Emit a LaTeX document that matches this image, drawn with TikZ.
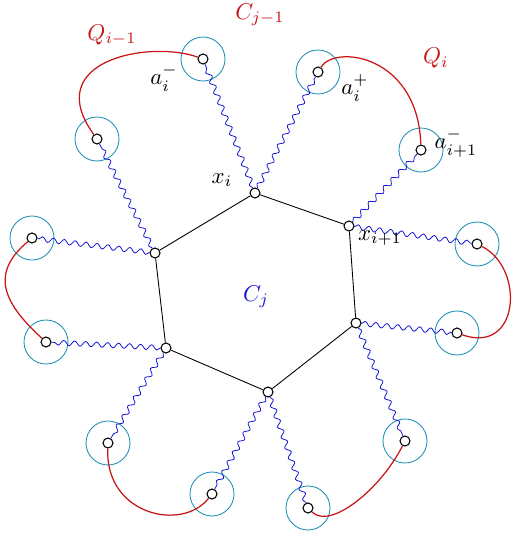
\documentclass[tikz,border=0pt]{standalone}
\usepackage{amsmath}
\usetikzlibrary{decorations.pathmorphing}
\definecolor{ringcol}{RGB}{35,145,185}
\definecolor{pathcol}{RGB}{200,20,20}
\definecolor{wavecol}{RGB}{20,20,215}

\begin{document}
\begin{tikzpicture}[lbl/.style={scale=1.3},
	vert/.style={circle, draw, fill=white, inner sep=0pt, minimum size=2mm, line width=0.6pt},
	ring/.style={ringcol, line width=0.5pt},
	wave/.style={wavecol, line width=0.45pt, decorate, decoration={snake, amplitude=0.5mm, segment length=2.2mm}},
	qpath/.style={pathcol, line width=0.7pt}]
	\useasboundingbox (0,0) rectangle (10.36,10.76);
	% cycle C_j
	\foreach \n/\x/\y in {x1/5.10/6.90, x2/6.98/6.24, x3/7.12/4.30, x4/5.36/2.92, x5/3.32/3.80, x6/3.10/5.70} \node[vert] (\n) at (\x,\y) {};
	\draw[line width=0.5pt] (x1) -- (x2) -- (x3) -- (x4) -- (x5) -- (x6) -- (x1);
	% end points with their rings
	\foreach \n/\x/\y in {a1m/4.06/9.58, a1p/6.36/9.32, a2m/8.42/7.76, a2p/9.54/5.88, a3m/9.14/4.10, a3p/8.10/1.94, a4m/6.16/0.60, a4p/4.24/0.88, a5m/2.16/1.90, a5p/0.92/3.92, a6m/0.64/6.00, a6p/1.94/7.98} {\node[vert] (\n) at (\x,\y) {}; \draw[ring] (\n) circle (0.44);}
	\foreach \v/\m/\p in {x1/a1m/a1p, x2/a2m/a2p, x3/a3m/a3p, x4/a4m/a4p, x5/a5m/a5p, x6/a6m/a6p} {\draw[wave] (\v) -- (\m); \draw[wave] (\v) -- (\p);}
	% paths Q
	\draw[qpath] (a6p) .. controls (0.80,9.56) and (3.00,9.96) .. (a1m);
	\draw[qpath] (a1p) .. controls (6.70,9.88) and (8.36,9.66) .. (a2m);
	\draw[qpath] (a2p) .. controls (10.50,5.40) and (10.40,3.66) .. (a3m);
	\draw[qpath] (a3p) .. controls (7.60,0.96) and (6.60,0.16) .. (a4m);
	\draw[qpath] (a4p) .. controls (3.64,0.12) and (2.10,0.46) .. (a5m);
	\draw[qpath] (a5p) .. controls (0.00,4.76) and (-0.16,5.32) .. (a6m);
	% labels
	\node[lbl, pathcol] (lq1) at (2.24,10.06) {$Q_{i-1}$};
	\node[lbl, pathcol] (lcj) at (5.20,10.46) {$C_{j-1}$};
	\node[lbl, pathcol] (lq2) at (8.72,9.60) {$Q_i$};
	\node[lbl] (la1) at (3.28,9.20) {$a_i^-$};
	\node[lbl] (la2) at (7.10,9.00) {$a_i^+$};
	\node[lbl] (la3) at (9.12,7.90) {$a_{i+1}^-$};
	\node[lbl] (lx1) at (4.44,7.16) {$x_i$};
	\node[lbl] (lx2) at (7.60,6.00) {$x_{i+1}$};
	\node[lbl, wavecol] (lc) at (5.12,4.82) {$C_j$};
\end{tikzpicture}
\end{document}
